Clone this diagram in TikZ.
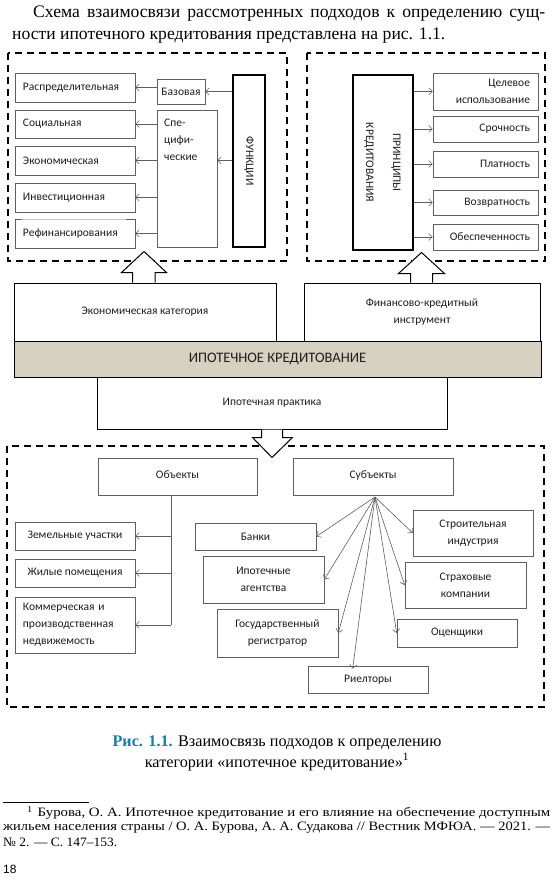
\documentclass[tikz,border=0pt]{standalone}
\usepackage{fontspec}
\setmainfont{Liberation Serif}
\newfontfamily\diagfont{Carlito}
\newfontfamily\pagefont{Liberation Sans}
\usetikzlibrary{arrows.meta,calc}
\definecolor{barfill}{RGB}{213,208,191}
\definecolor{capblue}{RGB}{25,125,165}
\definecolor{boxline}{RGB}{95,95,95}
\definecolor{txt}{RGB}{30,30,30}
\newcommand\dfont{\diagfont\fontsize{11.5}{17}\selectfont}
\newcommand\bfontbig{\diagfont\fontsize{14.5}{17}\selectfont}
\newsavebox\fitlinebox
\newcommand\fitline[2]{\sbox\fitlinebox{#2}\ifdim\wd\fitlinebox>#1\relax\resizebox{#1}{\height}{\usebox\fitlinebox}\else\makebox[#1][s]{#2}\fi}
\newcommand\fitscale[2]{\resizebox{#1}{\height}{#2}}
\begin{document}
\begin{tikzpicture}[x=1pt,y=-1pt,
  box/.style={draw=boxline, line width=0.6pt, inner sep=0pt, font=\dfont, text=txt, align=center},
  mainbox/.style={box, draw=black, line width=1pt},
  heavybox/.style={box, draw=black, line width=1.6pt},
  lefttext/.style={text width=104, align=left},
  righttext/.style={text width=89, align=right},
  plain/.style={inner sep=0pt, font=\dfont, text=txt},
  dashedbox/.style={draw=black, line width=1.7pt, dash pattern=on 7pt off 5pt},
  arr/.style={draw=boxline, line width=0.6pt, -{Straight Barb[length=3.5pt,width=7pt]}},
  blockarr/.style={draw=black, line width=1pt, fill=white, line join=miter},
  prose/.style={inner sep=0pt, anchor=west, font=\fontsize{17.6}{22}\selectfont},
  capt/.style={inner sep=0pt, font=\fontsize{16.2}{19}\selectfont},
  fnote/.style={inner sep=0pt, anchor=west, font=\fontsize{12.8}{14}\selectfont}
]
\useasboundingbox (0,0) rectangle (554,880);
\fill[white] (0,0) rectangle (554,880);

% ---- prose ----
\node[prose] (p1) at (33,14) {\fitline{512pt}{Схема взаимосвязи рассмотренных подходов к определению сущ-}};
\node[prose] (p2) at (12,36) {ности ипотечного кредитования представлена на рис. 1.1.};

% ---- dashed frames ----
\draw[dashedbox] (8,53) rectangle (287,261);
\draw[dashedbox] (307,53) rectangle (545,261);
\draw[dashedbox] (7,446) rectangle (544,707);

% ---- functions ----
\node[box, lefttext, minimum width=120, minimum height=29] (rasp) at (75,87.5) {Распределительная};
\node[box, lefttext, minimum width=120, minimum height=28] (soc) at (75,124) {Социальная};
\node[box, lefttext, minimum width=120, minimum height=29] (econ) at (75,160.5) {Экономическая};
\node[box, lefttext, minimum width=120, minimum height=29] (inv) at (75,197.5) {Инвестиционная};
\node[box, lefttext, minimum width=120, minimum height=29] (refin) at (75,233.5) {Рефинансирования};
\draw[gray!45, line width=0.7pt] ([xshift=7pt,yshift=-7pt]inv.south west) -- ([xshift=-9pt,yshift=-7pt]inv.south east);

\node[box, minimum width=48, minimum height=25] (baz) at (181,91.5) {Базовая};
\node[box, minimum width=60, minimum height=137] (spec) at (187,178.5) {};
\node[plain, anchor=west, align=left] (spectxt) at (164,140) {Спе-\\цифи-\\ческие};
\node[heavybox, minimum width=32, minimum height=172] (func) at (249,161) {\rotatebox{-90}{ФУНКЦИИ}};

\draw[arr] (baz.west |- rasp.east) -- (rasp.east);
\draw[arr] (func.west |- baz.east) -- (baz.east);
\draw[arr] (func.west |- econ.east) -- (econ.east -| spec.east);
\draw[arr] (spec.west |- soc.east) -- (soc.east);
\draw[arr] (spec.west |- econ.east) -- (econ.east);
\draw[arr] (spec.west |- inv.east) -- (inv.east);
\draw[arr] (spec.west |- refin.east) -- (refin.east);

% ---- principles ----
\node[heavybox, minimum width=60, minimum height=175] (princ) at (383,162.5)
  {\rotatebox{-90}{\begin{tabular}{@{}c@{}}ПРИНЦИПЫ\\[10pt]КРЕДИТОВАНИЯ\end{tabular}}};
\node[box, righttext, minimum width=105, minimum height=37] (cel) at (485.5,91.5) {Целевое\\использование};
\node[box, righttext, minimum width=105, minimum height=26] (sroch) at (485.5,129) {Срочность};
\node[box, righttext, minimum width=105, minimum height=26] (plat) at (485.5,164) {Платность};
\node[box, righttext, minimum width=105, minimum height=25] (vozv) at (485.5,202.5) {Возвратность};
\node[box, righttext, minimum width=105, minimum height=26] (obesp) at (485.5,237) {Обеспеченность};
\foreach \n in {cel,sroch,plat,vozv,obesp}
  \draw[arr] (princ.east |- \n.west) -- (\n.west);

% ---- middle ----
\node[mainbox, minimum width=262, minimum height=58] (ecat) at (145,312) {Экономическая категория};
\node[mainbox, minimum width=236, minimum height=58] (fin) at (422,312) {Финансово-кредитный\\инструмент};
\node[mainbox, fill=barfill, minimum width=527, minimum height=36, font=\bfontbig] (ipk) at (277.5,359) {ИПОТЕЧНОЕ КРЕДИТОВАНИЕ};
\node[mainbox, minimum width=350, minimum height=52] (prac) at (272,403) {Ипотечная практика};

\path (ecat.north west) ++(119,0) coordinate (la);
\draw[blockarr] (la) -- ++(0,-10) -- ++(-11,0) -- ++(22.5,-21) -- ++(22.5,21) -- ++(-11.5,0) -- ++(0,10);
\path (fin.north west) ++(107,0) coordinate (ra);
\draw[blockarr] (ra) -- ++(0,-9) -- ++(-12,0) -- ++(23,-21) -- ++(23,21) -- ++(-12,0) -- ++(0,9);
\path (prac.south west) ++(165,0) coordinate (da);
\draw[blockarr] (da) -- ++(0,8) -- ++(-9,0) -- ++(19.5,20) -- ++(20.5,-20) -- ++(-10,0) -- ++(0,-8);

% ---- objects ----
\node[box, minimum width=159, minimum height=37] (obj) at (177.5,476.5) {\raisebox{4pt}{Объекты}};
\node[box, minimum width=120, minimum height=28] (zem) at (75,536) {Земельные участки};
\node[box, minimum width=120, minimum height=28] (zhil) at (75,573) {Жилые помещения};
\node[box, lefttext, minimum width=120, minimum height=56] (komm) at (75,625) {Коммерческая и\\производственная\\недвижемость};
\coordinate (otop) at (171,495);
\draw[boxline, line width=0.6pt] (otop) -- (otop |- komm.east);
\foreach \n in {zem,zhil,komm}
  \draw[arr] (otop |- \n.east) -- (\n.east);

% ---- subjects ----
\node[box, minimum width=160, minimum height=37] (subj) at (373,476.5) {\raisebox{4pt}{Субъекты}};
\node[box, minimum width=121, minimum height=27] (bank) at (255.5,536.5) {Банки};
\node[box, minimum width=121, minimum height=47] (ipag) at (263.5,579.5) {Ипотечные\\агентства};
\node[box, minimum width=121, minimum height=48] (gos) at (277.5,633) {Государственный\\регистратор};
\node[box, minimum width=120, minimum height=46] (stroi) at (473,533) {Строительная\\индустрия};
\node[box, minimum width=121, minimum height=46] (strah) at (465.5,585) {Страховые\\компании};
\node[box, minimum width=120, minimum height=28] (ocen) at (457,633) {Оценщики};
\node[box, minimum width=120, minimum height=27] (riel) at (368,679.5) {Риелторы};
\coordinate (hub) at (375,497);
\draw[arr] (hub) -- (bank.east);
\draw[arr] (hub) -- (ipag.east);
\draw[arr] (hub) -- (gos.east);
\draw[arr] (hub) -- ([xshift=45pt,yshift=-3pt]riel.north west);
\draw[arr] (hub) -- (ocen.west);
\draw[arr] (hub) -- (strah.west);
\draw[arr] (hub) -- (stroi.west);

% ---- caption ----
\node[capt] (cap1) at (277,743) {\textcolor{capblue}{\textbf{Рис. 1.1.}} Взаимосвязь подходов к определению};
\node[capt] (cap2) at (277,762) {категории «ипотечное кредитование»\textsuperscript{1}};

% ---- footnote ----
\coordinate (rule1) at (3,802);
\coordinate (rule2) at (89,802);
\draw[line width=0.6pt] (rule1) -- (rule2);
\node[fnote] (fn1) at (27,813) {\fitscale{523pt}{\textsuperscript{1}\hspace{4pt}Бурова, О. А. Ипотечное кредитование и его влияние на обеспечение доступным}};
\node[fnote] (fn2) at (3,827.5) {\fitscale{547pt}{жильем населения страны / О. А. Бурова, А. А. Судакова // Вестник МФЮА. — 2021. —}};
\node[fnote] (fn3) at (3,842) {\fitscale{114pt}{№ 2. — С. 147–153.}};
\node[inner sep=0pt, anchor=west, font=\pagefont\fontsize{12}{14}\selectfont] (pg) at (3,869) {18};
\end{tikzpicture}
\end{document}
